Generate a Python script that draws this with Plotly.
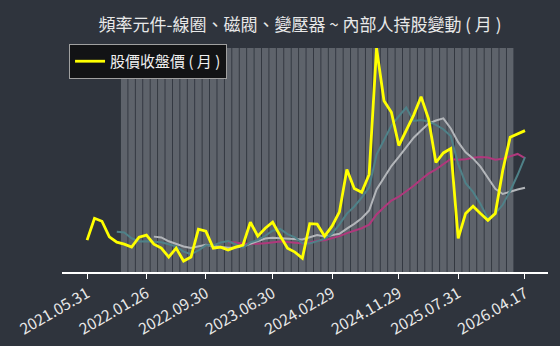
import plotly.graph_objects as go

dates = [
    "2021.05.31", "2021.06.30", "2021.07.30", "2021.08.31", "2021.09.30", "2021.10.29", "2021.11.30", "2021.12.30",
    "2022.01.26", "2022.02.25", "2022.03.31", "2022.04.29", "2022.05.31", "2022.06.30", "2022.07.29", "2022.08.31",
    "2022.09.30", "2022.10.31", "2022.11.30", "2022.12.30",
    "2023.01.31", "2023.02.24", "2023.03.31", "2023.04.28", "2023.05.31", "2023.06.30", "2023.07.31", "2023.08.31",
    "2023.09.28", "2023.10.31", "2023.11.30", "2023.12.29",
    "2024.01.31", "2024.02.29", "2024.03.29", "2024.04.30", "2024.05.31", "2024.06.28", "2024.07.31", "2024.08.30",
    "2024.09.30", "2024.10.30", "2024.11.29", "2024.12.31",
    "2025.01.22", "2025.02.27", "2025.03.31", "2025.04.30", "2025.05.30", "2025.06.30", "2025.07.31", "2025.08.29",
    "2025.09.30", "2025.10.31", "2025.11.28", "2025.12.31",
    "2026.01.30", "2026.02.26", "2026.03.31", "2026.04.17",
]

close_price = [
    31, 42, 40.5, 32.7, 30, 29, 27.5, 32.5, 33.5, 29,
    27, 22.5, 27, 20.5, 22.5, 36.5, 35.5, 27, 27.5, 26,
    27.5, 28.5, 40, 33, 37, 40, 33.3, 26.9, 25, 21.9,
    39.3, 39, 33, 38, 45.2, 66.5, 56.9, 55, 64, 127.4,
    101, 95.2, 78.5, 85.9, 93.8, 103, 91.9, 70, 74.8, 77,
    31.9, 44.4, 48, 44.4, 41, 44.4, 66, 82.7, 84.4, 86,
]

ma5 = [
    35.24, 34.84, 31.94, 30.34, 30.5, 30.3, 29.9, 28.9, 27.8, 25.2,
    23.9, 25.8, 28.4, 28.4, 29.8, 30.5, 28.7, 27.3, 29.9, 31.0,
    33.2, 35.7, 36.66, 34.04, 32.44, 29.42, 29.28, 30.42, 31.64, 34.24,
    38.9, 44.34, 47.92, 52.32, 57.52, 73.96, 80.86, 88.52, 93.22, 97.6,
    90.88, 91.28, 90.62, 88.92, 86.7, 83.34, 69.12, 59.62, 55.22, 49.14,
    41.94, 44.44, 48.76, 55.7, 63.7, 72.7,
]

ma10 = [
    32.77, 32.37, 30.42, 29.07, 27.85, 27.1, 27.85, 28.65, 28.1, 27.5,
    27.2, 27.25, 27.85, 29.15, 30.4, 31.85, 32.2, 31.98, 31.97, 31.72,
    31.31, 32.49, 33.54, 32.84, 33.34, 34.16, 36.81, 39.17, 41.98, 45.88,
    56.43, 62.6, 68.22, 72.77, 77.56, 82.42, 86.07, 89.57, 91.07, 92.15,
    87.11, 80.2, 75.12, 72.07, 67.92, 62.64, 56.78, 54.19, 55.46, 56.42,
    57.32,
]

ma20 = [
    29.99, 29.81, 29.14, 29.11, 29.13, 29.48, 30.03, 30.32, 30.04, 29.61,
    29.26, 29.87, 30.7, 31.0, 31.87, 33.0, 34.5, 35.58, 36.98, 38.8,
    43.87, 47.55, 50.88, 52.81, 55.45, 58.29, 61.44, 64.37, 66.53, 69.02,
    71.77, 71.4, 71.67, 72.42, 72.74, 72.53, 71.43, 71.88, 73.27, 74.29,
    72.22,
]

insider_dates = dates[5:58]
insider_pct = [
    23.5, 23.5, 23.5, 23.5, 23.5, 23.5, 23.5, 23.5, 23.5, 23.5,
    23.5, 23.5, 23.5, 23.5, 23.5, 23.5, 23.5, 23.5, 23.5, 23.5,
    23.5, 23.5, 23.5, 23.5, 23.5, 23.5, 23.5, 23.5, 23.5, 23.5,
    23.5, 23.5, 23.5, 23.5, 23.5, 23.5, 23.5, 23.5, 23.5, 23.5,
    23.5, 23.5, 23.5, 23.5, 23.5, 23.5, 23.5, 23.5, 23.5, 23.5,
    23.5, 23.5, 23.5,
]

tick_labels = ["2021.05.31", "2022.01.26", "2022.09.30", "2023.06.30",
               "2024.02.29", "2024.11.29", "2025.07.31", "2026.04.17"]

title_text = "頻率元件-線圈、磁閥、變壓器 ~ 內部人持股變動 ( 月 )"
legend_name = "股價收盤價 ( 月 )"

BG = "#2f343d"
FONT = "Noto Sans CJK TC"

fig = go.Figure()

fig.add_trace(go.Bar(
    x=insider_dates, y=insider_pct, yaxis="y",
    marker=dict(color="#5e636b", line=dict(width=0)),
    showlegend=False, hoverinfo="skip",
))

fig.add_trace(go.Scatter(
    x=dates[19:], y=ma20, mode="lines", yaxis="y2",
    line=dict(color="#b0387c", width=2), showlegend=False,
))
fig.add_trace(go.Scatter(
    x=dates[9:], y=ma10, mode="lines", yaxis="y2",
    line=dict(color="#b3b6ba", width=2), showlegend=False,
))
fig.add_trace(go.Scatter(
    x=dates[4:], y=ma5, mode="lines", yaxis="y2",
    line=dict(color="#4f8188", width=2), showlegend=False,
))
fig.add_trace(go.Scatter(
    x=dates, y=close_price, mode="lines", name=legend_name, yaxis="y2",
    line=dict(color="#ffff00", width=2.8),
))

fig.update_layout(
    width=560, height=346,
    paper_bgcolor=BG, plot_bgcolor=BG,
    margin=dict(l=62, r=12, t=48, b=74),
    font=dict(family=FONT, color="#e8e8e8", size=12),
    title=dict(text=title_text, x=300 / 560, xanchor="center", y=1 - 25 / 346, yanchor="middle",
               xref="container", yref="container",
               font=dict(family=FONT, size=17, color="#e8e8e8")),
    bargap=0.12,
    showlegend=True,
    legend=dict(x=0.0145, y=1.018, xanchor="left", yanchor="top",
                bgcolor="#121315", bordercolor="#a0a0a0", borderwidth=1,
                font=dict(family=FONT, size=15, color="#f0f0f0")),
    xaxis=dict(
        type="category", categoryorder="array", categoryarray=dates,
        range=[-3.38, 62.1], automargin=False,
        tickmode="array", tickvals=tick_labels, ticktext=tick_labels,
        tickangle=-30, ticks="outside", ticklen=5, tickcolor="#ffffff", tickwidth=1,
        showline=True, linecolor="#ffffff", linewidth=1.5,
        showgrid=False, zeroline=False,
        tickfont=dict(family=FONT, size=15.5, color="#e8e8e8"),
    ),
    yaxis=dict(range=[0, 23.5], showticklabels=False, showgrid=False, automargin=False,
               zeroline=False, showline=False, ticks=""),
    yaxis2=dict(range=[15, 127.5], overlaying="y", side="right", showticklabels=False,
                showgrid=False, zeroline=False, showline=False, ticks="", automargin=False),
)

fig.write_html("out.html")
